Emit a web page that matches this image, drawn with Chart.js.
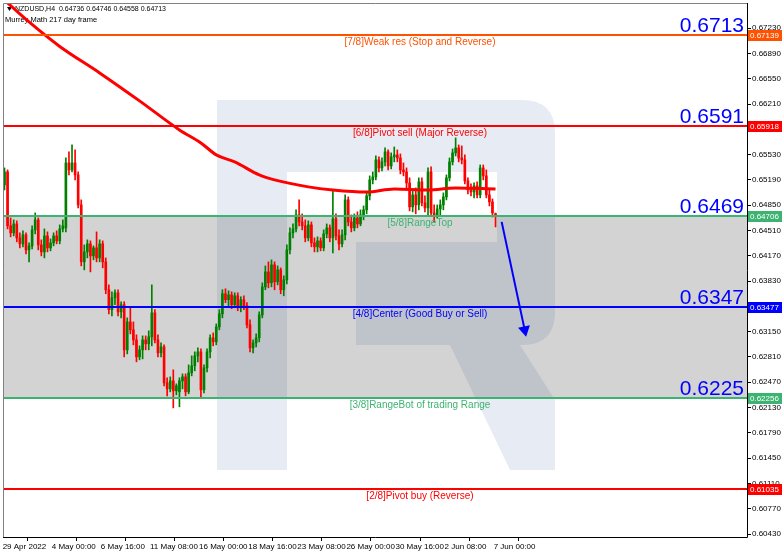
<!DOCTYPE html>
<html>
<head>
<meta charset="utf-8">
<script src="https://cdn.jsdelivr.net/npm/chart.js@4.4.1/dist/chart.umd.min.js"></script>
<style>
  html, body { margin: 0; padding: 0; background: #ffffff; }
  #wrap { width: 782px; height: 553px; position: relative; }
</style>
</head>
<body>
<div id="wrap"><canvas id="c" width="782" height="553"></canvas></div>
<script>
// NZDUSD H4 candles, 29 Apr 2022 08:00 .. 7 Jun 2022 00:00
const openPrices = [
  .65124,.65298,.64573,.64479,.64599,.64412,.64331,.64452,.64250,.64304,
  .64519,.64653,.64317,.64223,.64438,.64277,.64344,.64438,.64371,.64532,
  .64546,.65419,.65325,.65419,.65258,.64855,.64089,.64223,.64331,.64169,
  .64277,.64142,.64331,.64089,.63714,.63446,.63606,.63673,.63417,.63513,
  .62906,.63282,.63175,.63040,.62812,.62906,.63040,.62987,.63081,.63403,
  .63040,.62866,.62946,.62462,.62382,.62489,.62355,.62342,.62489,.62543,
  .62342,.62597,.62691,.62825,.62879,.62369,.62664,.62879,.63067,.63014,
  .63215,.63390,.63660,.63580,.63645,.63513,.63633,.63472,.63580,.63499,
  .63242,.62933,.63000,.63067,.63376,.63753,.63954,.63807,.64049,.63820,
  .63981,.63714,.63847,.64250,.64479,.64532,.64720,.64626,.64573,.64412,
  .64586,.64344,.64291,.64371,.64277,.64465,.64546,.64412,.64667,.64438,
  .64331,.64452,.64922,.64626,.64546,.64680,.64599,.64720,.64788,.64976,
  .65191,.65231,.65460,.65352,.65433,.65567,.65379,.65500,.65527,.65486,
  .65325,.65298,.65150,.64828,.64989,.64855,.65164,.64882,.64814,.65298,
  .64747,.64720,.64801,.64855,.64962,.65218,.65433,.65554,.65621,.65486,
  .65460,.65177,.65056,.65029,.65110,.64989,.65352,.65245,.64989,.64895,
  .64736
];
const highPrices = [
  .65352,.65325,.64680,.64653,.64640,.64479,.64506,.64479,.64344,.64573,
  .64747,.64680,.64385,.64532,.64492,.64398,.64479,.64506,.64586,.64653,
  .65486,.65567,.65661,.65594,.65298,.64922,.64317,.64385,.64371,.64304,
  .64492,.64385,.64371,.64142,.63780,.63686,.63714,.63714,.63553,.63553,
  .63336,.63472,.63282,.63108,.62960,.63094,.63094,.63161,.63780,.63446,
  .63108,.63000,.62973,.62530,.62543,.62637,.62449,.62530,.62583,.62583,
  .62704,.62825,.62879,.62933,.62919,.62704,.62919,.63108,.63134,.63255,
  .63446,.63714,.63727,.63700,.63686,.63673,.63673,.63620,.63633,.63540,
  .63310,.63040,.63121,.63417,.63807,.64035,.64089,.64116,.64089,.64035,
  .64008,.63901,.64317,.64546,.64599,.64788,.64922,.64734,.64653,.64640,
  .64626,.64412,.64425,.64412,.64519,.64599,.64586,.65056,.64734,.64519,
  .64519,.64989,.64962,.64720,.64734,.64761,.64788,.64841,.65029,.65245,
  .65298,.65513,.65500,.65486,.65621,.65594,.65554,.65634,.65594,.65540,
  .65419,.65352,.65218,.65056,.65083,.65218,.65218,.64976,.65352,.65366,
  .64855,.64855,.64922,.65016,.65258,.65486,.65607,.65755,.65661,.65648,
  .65527,.65218,.65137,.65150,.65164,.65392,.65392,.65325,.65056,.64935,
  .64746
];
const lowPrices = [
  .65056,.64532,.64425,.64438,.64358,.64277,.64291,.64196,.64089,.64264,
  .64465,.64250,.64169,.64142,.64223,.64237,.64304,.64331,.64331,.64492,
  .64492,.65258,.65298,.65191,.64814,.64035,.63981,.64142,.63954,.64116,
  .64089,.64089,.64008,.63660,.63390,.63363,.63513,.63363,.63336,.62812,
  .62852,.63121,.62973,.62745,.62772,.62785,.62906,.62906,.62960,.63000,
  .62812,.62812,.62422,.62288,.62342,.62126,.62301,.62140,.62382,.62288,
  .62315,.62556,.62624,.62745,.62261,.62328,.62610,.62798,.62960,.62973,
  .63175,.63336,.63540,.63499,.63459,.63472,.63432,.63417,.63446,.63202,
  .62879,.62866,.62946,.63014,.63336,.63714,.63740,.63753,.63714,.63780,
  .63660,.63633,.63793,.64196,.64412,.64492,.64573,.64519,.64358,.64371,
  .64291,.64223,.64223,.64237,.64237,.64412,.64358,.64210,.64385,.64250,
  .64291,.64385,.64573,.64492,.64506,.64546,.64573,.64653,.64734,.64922,
  .65137,.65191,.65298,.65312,.65379,.65325,.65339,.65433,.65433,.65271,
  .65245,.65083,.64774,.64761,.64734,.64788,.64841,.64761,.64720,.64707,
  .64626,.64680,.64707,.64788,.64922,.65177,.65392,.65513,.65433,.65406,
  .65137,.65003,.64976,.64949,.64949,.64949,.65191,.64949,.64841,.64693,
  .64558
];
const closePrices = [
  .65298,.64573,.64479,.64599,.64412,.64331,.64452,.64250,.64304,.64519,
  .64653,.64317,.64223,.64438,.64277,.64344,.64438,.64371,.64532,.64573,
  .65419,.65325,.65419,.65258,.64855,.64089,.64223,.64331,.64169,.64277,
  .64142,.64331,.64089,.63714,.63446,.63606,.63673,.63417,.63513,.62906,
  .63282,.63175,.63040,.62812,.62906,.63040,.62987,.63081,.63403,.63040,
  .62866,.62946,.62462,.62382,.62489,.62355,.62422,.62489,.62543,.62342,
  .62597,.62691,.62825,.62879,.62369,.62664,.62879,.63067,.63014,.63215,
  .63390,.63660,.63580,.63645,.63513,.63633,.63472,.63580,.63499,.63242,
  .62933,.63000,.63067,.63376,.63753,.63954,.63807,.64049,.63820,.63981,
  .63714,.63847,.64250,.64479,.64532,.64720,.64626,.64573,.64412,.64586,
  .64344,.64291,.64371,.64277,.64465,.64546,.64412,.64667,.64438,.64331,
  .64452,.64922,.64626,.64546,.64680,.64599,.64720,.64788,.64976,.65191,
  .65231,.65460,.65352,.65433,.65567,.65379,.65500,.65527,.65486,.65325,
  .65298,.65150,.64828,.64989,.64855,.65164,.64882,.64814,.65298,.64747,
  .64720,.64801,.64855,.64962,.65218,.65433,.65554,.65621,.65486,.65460,
  .65177,.65056,.65029,.65110,.64989,.65352,.65245,.64989,.64895,.64747,
  .64713
];

// slow moving average, sampled along the bar index
const maIndex  = [-3, 8, 18, 31, 44, 57, 64, 69, 75, 83, 88, 99, 107, 118, 127, 138, 147, 160];
const maValues = [.67720, .67314, .66985, .66629, .66253, .65863, .65688, .65527, .65433, .65258, .65191, .65097, .65056, .65029, .65070, .65056, .65083, .65070];

// time axis: one label every 16 bars
const timeTickIndex  = [0, 16, 32, 48, 64, 80, 96, 112, 128, 144, 160];
const timeTickLabels = ['29 Apr 2022', '4 May 00:00', '6 May 16:00', '11 May 08:00', '16 May 00:00',
  '18 May 16:00', '23 May 08:00', '26 May 00:00', '30 May 16:00', '2 Jun 08:00', '7 Jun 00:00'];

// price axis ticks
const priceTicks = [0.60430, 0.60770, 0.61110, 0.61450, 0.61790, 0.62130, 0.62470, 0.62810, 0.63150,
  0.63490, 0.63830, 0.64170, 0.64510, 0.64850, 0.65190, 0.65530, 0.65870, 0.66210, 0.66550, 0.66890, 0.67230];

// Murrey Math levels
const levelValues = [0.67139, 0.65918, 0.64706, 0.63477, 0.62256, 0.61035];
const levelNames  = ['[7/8]Weak res (Stop and Reverse)', '[6/8]Pivot sell (Major Reverse)', '[5/8]RangeTop',
  '[4/8]Center (Good Buy or Sell)', '[3/8]RangeBot of trading Range', '[2/8]Pivot buy (Reverse)'];
const levelBigText = ['0.6713', '0.6591', '0.6469', '0.6347', '0.6225', ''];

// projected move
const arrowIndex = [162.0, 169.5];
const arrowValues = [0.64626, 0.63175];

const symbolTitle = 'NZDUSD,H4';
const indicatorTitle = 'Murrey Math 217 day frame';

const levelColors = ['#ff5200', '#ff0000', '#3cb371', '#0000ff', '#3cb371', '#ff0000'];
const UP = '#008000', DOWN = '#ff0000';
const FONT = '"Liberation Sans", Arial, sans-serif';

const n = closePrices.length;
const idx = closePrices.map((_, i) => i);
const candleColor = c => {
  const i = c.dataIndex;
  return closePrices[i] >= openPrices[i] ? UP : DOWN;
};
const noPad = s => { s.paddingTop = 0; s.paddingBottom = 0; s.paddingLeft = 0; s.paddingRight = 0; };

const backdrop = {
  id: 'backdrop',
  beforeDatasetsDraw(chart) {
    const { ctx, chartArea: a, scales: { y } } = chart;
    ctx.save();
    ctx.beginPath();
    ctx.rect(a.left, a.top, a.width, a.height);
    ctx.clip();
    // trading range band
    const yTop = y.getPixelForValue(levelValues[2]);
    const yBot = y.getPixelForValue(levelValues[4]);
    ctx.fillStyle = '#d3d3d3';
    ctx.fillRect(a.left, yTop, a.width, yBot - yTop);

    // broker logo watermark
    ctx.globalCompositeOperation = 'multiply';
    ctx.fillStyle = 'rgb(231,236,244)';
    ctx.beginPath();
    ctx.rect(217, 100, 70, 370);
    ctx.moveTo(287, 100);
    ctx.lineTo(522, 100);
    ctx.quadraticCurveTo(555, 100, 555, 133);
    ctx.lineTo(555, 312);
    ctx.quadraticCurveTo(555, 345, 522, 345);
    ctx.lineTo(356, 345);
    ctx.lineTo(356, 242);
    ctx.lineTo(497, 242);
    ctx.lineTo(497, 172);
    ctx.lineTo(287, 172);
    ctx.closePath();
    ctx.moveTo(450, 345);
    ctx.lineTo(520, 345);
    ctx.lineTo(555, 400);
    ctx.lineTo(555, 470);
    ctx.lineTo(510, 470);
    ctx.closePath();
    ctx.fill();
    ctx.restore();

    // header
    ctx.save();
    ctx.fillStyle = '#000';
    ctx.beginPath();
    ctx.moveTo(a.left + 4, a.top + 4);
    ctx.lineTo(a.left + 9, a.top + 4);
    ctx.lineTo(a.left + 6.5, a.top + 8);
    ctx.closePath();
    ctx.fill();
    ctx.textBaseline = 'middle';
    const last = n - 1;
    const vals = [openPrices[last], highPrices[last], lowPrices[last], closePrices[last]].map(v => v.toFixed(5)).join(' ');
    ctx.font = '7px ' + FONT;
    ctx.fillText(symbolTitle + '  ' + vals, a.left + 12, a.top + 6);
    ctx.font = '7.5px ' + FONT;
    ctx.fillText(indicatorTitle, a.left + 2, a.top + 17);
    ctx.restore();
  },
  afterDatasetsDraw(chart) {
    const { ctx, chartArea: a, scales: { y } } = chart;
    ctx.save();
    ctx.beginPath();
    ctx.rect(a.left, a.top, a.width, a.height);
    ctx.clip();
    levelValues.forEach((v, k) => {
      const py = Math.round(y.getPixelForValue(v));
      ctx.strokeStyle = levelColors[k];
      ctx.lineWidth = 2;
      ctx.beginPath();
      ctx.moveTo(a.left, py);
      ctx.lineTo(a.right, py);
      ctx.stroke();
      ctx.fillStyle = levelColors[k];
      ctx.font = '10px ' + FONT;
      ctx.textAlign = 'center';
      ctx.textBaseline = 'middle';
      ctx.fillText(levelNames[k], 420, py + 7);
      if (levelBigText[k]) {
        ctx.fillStyle = '#0000ff';
        ctx.font = '21px ' + FONT;
        ctx.textAlign = 'right';
        ctx.textBaseline = 'alphabetic';
        ctx.fillText(levelBigText[k], a.right - 3, py - 3);
      }
    });
    ctx.restore();
  },
  afterDraw(chart) {
    const { ctx, chartArea: a, scales: { y } } = chart;
    ctx.save();
    // frame
    ctx.lineWidth = 1;
    ctx.strokeStyle = '#808080';
    ctx.beginPath();
    ctx.moveTo(a.left + 0.5, a.bottom);
    ctx.lineTo(a.left + 0.5, a.top + 0.5);
    ctx.lineTo(a.right, a.top + 0.5);
    ctx.stroke();
    ctx.strokeStyle = '#000';
    ctx.beginPath();
    ctx.moveTo(a.right + 0.5, a.top);
    ctx.lineTo(a.right + 0.5, a.bottom + 0.5);
    ctx.lineTo(a.left, a.bottom + 0.5);
    ctx.stroke();
    // level price tags on the axis
    ctx.font = '8px ' + FONT;
    ctx.textBaseline = 'middle';
    ctx.textAlign = 'left';
    levelValues.forEach((v, k) => {
      const py = Math.round(y.getPixelForValue(v));
      ctx.fillStyle = levelColors[k];
      ctx.fillRect(a.right + 1, py - 5, 35, 11);
      ctx.fillStyle = '#fff';
      ctx.fillText(v.toFixed(5), a.right + 3, py + 0.5);
    });
    ctx.restore();
  }
};

new Chart(document.getElementById('c'), {
  data: {
    datasets: [
      {
        type: 'line', label: 'arrow', order: 1,
        data: arrowIndex.map((x, k) => ({ x, y: arrowValues[k] })),
        borderColor: '#0000ff', borderWidth: 2,
        pointRadius: [0, 5], pointStyle: 'triangle',
        pointBackgroundColor: '#0000ff', pointBorderColor: '#0000ff',
        pointRotation(c) {
          const sx = c.chart.scales.x, sy = c.chart.scales.y;
          const dx = sx.getPixelForValue(arrowIndex[1]) - sx.getPixelForValue(arrowIndex[0]);
          const dy = sy.getPixelForValue(arrowValues[1]) - sy.getPixelForValue(arrowValues[0]);
          return Math.atan2(dx, -dy) * 180 / Math.PI;
        }
      },
      {
        type: 'line', label: 'MA', order: 2,
        data: maIndex.map((x, k) => ({ x, y: maValues[k] })),
        borderColor: '#ff0000', borderWidth: 3, pointRadius: 0,
        cubicInterpolationMode: 'monotone'
      },
      {
        type: 'bar', label: 'body', order: 3, grouped: false,
        data: idx.map(i => ({ x: i, y: [openPrices[i], closePrices[i]] })),
        backgroundColor: candleColor, barThickness: 2, minBarLength: 1, borderWidth: 0
      },
      {
        type: 'bar', label: 'wick', order: 4, grouped: false,
        data: idx.map(i => ({ x: i, y: [lowPrices[i], highPrices[i]] })),
        backgroundColor: candleColor, barThickness: 1, borderWidth: 0
      }
    ]
  },
  options: {
    responsive: false,
    animation: false,
    devicePixelRatio: 1,
    layout: { autoPadding: false, padding: { left: 3, top: 3, right: 0, bottom: 0 } },
    plugins: { legend: { display: false }, tooltip: { enabled: false } },
    scales: {
      x: {
        type: 'linear', min: -0.49, max: 241.94, offset: false,
        grid: { drawOnChartArea: false, drawTicks: true, tickLength: 4, color: '#000' },
        border: { display: false },
        afterBuildTicks: s => { s.ticks = timeTickIndex.map(v => ({ value: v - 0.6 })); },
        afterFit: s => { s.height = 16; noPad(s); },
        ticks: {
          autoSkip: false, maxRotation: 0, align: 'start', padding: 1, color: '#000',
          font: { size: 8, family: FONT },
          callback: (v, k) => timeTickLabels[k]
        }
      },
      y: {
        type: 'linear', position: 'right', min: 0.60390, max: 0.67569,
        grid: { drawOnChartArea: false, drawTicks: true, tickLength: 4, color: '#000' },
        border: { display: false },
        afterBuildTicks: s => { s.ticks = priceTicks.map(v => ({ value: v })); },
        afterFit: s => { s.width = 35; noPad(s); },
        ticks: {
          padding: 1, color: '#000', font: { size: 8, family: FONT },
          callback: v => v.toFixed(5)
        }
      }
    }
  },
  plugins: [backdrop]
});
</script>
</body>
</html>
